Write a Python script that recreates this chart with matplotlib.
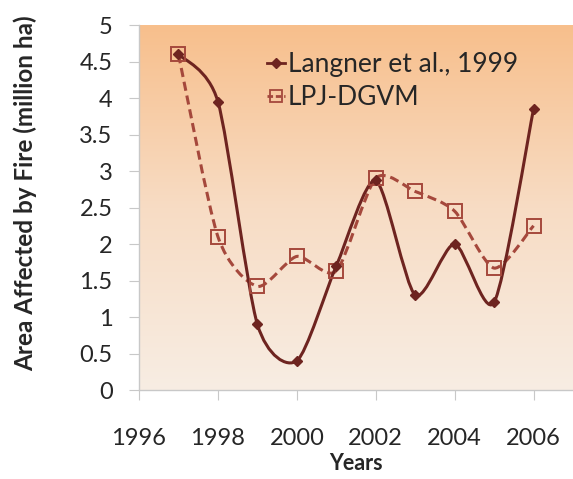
import numpy as np
import matplotlib.pyplot as plt
from matplotlib.path import Path
from matplotlib.patches import PathPatch
from matplotlib.lines import Line2D
from matplotlib.colors import LinearSegmentedColormap

plt.rcParams['font.family'] = ['Lato', 'DejaVu Sans']

years = [1997, 1998, 1999, 2000, 2001, 2002, 2003, 2004, 2005, 2006]
langner = [4.6, 3.95, 0.9, 0.4, 1.7, 2.87, 1.3, 2.0, 1.2, 3.85]
lpj = [4.6, 2.1, 1.42, 1.83, 1.63, 2.9, 2.72, 2.45, 1.67, 2.25]

c_solid = '#6E2420'
c_dash = '#A5483C'
c_axis = '#C8C8C8'


def smooth_path(x, y, k=8.0):
    # excel-like smoothed line: catmull-rom style cubic beziers
    p = np.column_stack([x, y]).astype(float)
    n = len(p)
    verts = [p[0]]
    codes = [Path.MOVETO]
    for i in range(n - 1):
        p0 = p[i - 1] if i > 0 else p[i]
        p1 = p[i]
        p2 = p[i + 1]
        p3 = p[i + 2] if i + 2 < n else p[i + 1]
        c1 = p1 + (p2 - p0) / k
        c2 = p2 - (p3 - p1) / k
        verts += [c1, c2, p2]
        codes += [Path.CURVE4] * 3
    return Path(verts, codes)


fig = plt.figure(figsize=(5.73, 4.79), dpi=100, facecolor='white')
ax = fig.add_axes([0.2426, 0.1858, 0.7574, 0.762])

cmap = LinearSegmentedColormap.from_list('bg', ['#F8EDE3', '#F7DCC4', '#F8BF8C'])
grad = np.linspace(0, 1, 256).reshape(-1, 1)
ax.imshow(grad, extent=[1996, 2007, 0, 5], origin='lower', aspect='auto',
          cmap=cmap, zorder=0)

ax.add_patch(PathPatch(smooth_path(years, lpj), fill=False, edgecolor=c_dash,
                       lw=2.2, linestyle=(0, (3, 1.6)), zorder=2))
ax.add_patch(PathPatch(smooth_path(years, langner), fill=False, edgecolor=c_solid,
                       lw=2.2, zorder=3))
ax.plot(years, lpj, linestyle='none', marker='s', ms=10, mfc='none',
        mec=c_dash, mew=1.4, zorder=4)
ax.plot(years, langner, linestyle='none', marker='D', ms=5, color=c_solid, zorder=5)

ax.set_xlim(1996, 2007)
ax.set_ylim(0, 5)
ax.set_xticks([1996, 1998, 2000, 2002, 2004, 2006])
ax.set_yticks([0, 0.5, 1, 1.5, 2, 2.5, 3, 3.5, 4, 4.5, 5])
ax.set_yticklabels(['0', '0.5', '1', '1.5', '2', '2.5', '3', '3.5', '4', '4.5', '5'])

for s in ['top', 'right']:
    ax.spines[s].set_visible(False)
for s in ['left', 'bottom']:
    ax.spines[s].set_color(c_axis)
    ax.spines[s].set_linewidth(1)
ax.tick_params(axis='both', direction='out', color=c_axis, length=7,
               labelsize=17, labelcolor='#262626')
ax.tick_params(axis='y', pad=12)
ax.tick_params(axis='x', pad=20)

ax.set_xlabel('Years', fontsize=15.5, fontweight='bold', color='#262626')
ax.xaxis.set_label_coords(0.5, -0.172)
ax.set_ylabel('Area Affected by Fire (million ha)', fontsize=17.5,
              fontweight='bold', color='#262626')
ax.yaxis.set_label_coords(-0.235, 0.54)

handles = [
    Line2D([], [], color=c_solid, lw=2, marker='D', ms=5),
    Line2D([], [], color=c_dash, lw=2, marker='s', ms=8, mfc='none', mew=1.3,
           linestyle=(0, (2, 1))),
]
leg = ax.legend(handles, ['Langner et al., 1999', 'LPJ-DGVM'],
                loc='upper left', bbox_to_anchor=(0.27, 0.955), frameon=False,
                fontsize=19, handlelength=0.7, handletextpad=0.1,
                labelspacing=0.3, borderaxespad=0)
for t in leg.get_texts():
    t.set_color('#262626')

fig.savefig('out.png', dpi=100, facecolor='white')
